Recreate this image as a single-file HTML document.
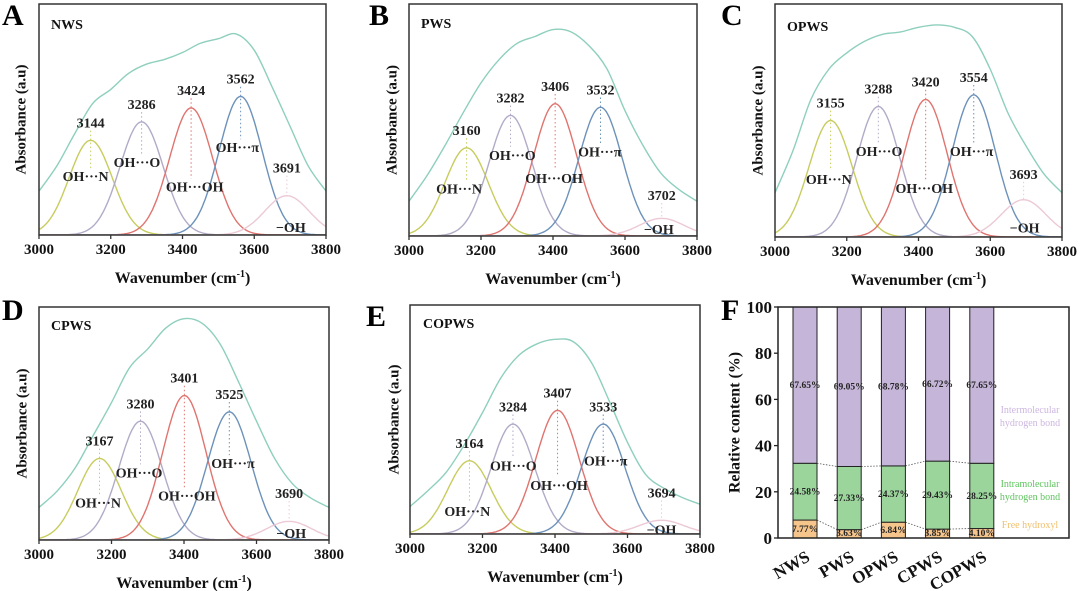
<!DOCTYPE html>
<html><head><meta charset="utf-8"><style>
html,body{margin:0;padding:0;background:#fff;}
svg{display:block;font-family:"Liberation Serif",serif;font-weight:bold;}
</style></head><body>
<svg id="fig" width="1080" height="591" viewBox="0 0 1080 591"></svg>
<script>
// ---------- spectra data ----------
const envX = [3000,3050,3100,3150,3200,3250,3300,3350,3400,3450,3500,3550,3600,3650,3700,3750,3800];
const envA = [0.19,0.30,0.44,0.57,0.63,0.70,0.74,0.76,0.79,0.83,0.85,0.87,0.80,0.64,0.47,0.30,0.19];
const envB = [0.15,0.26,0.39,0.53,0.66,0.76,0.83,0.86,0.89,0.88,0.82,0.72,0.54,0.39,0.27,0.20,0.15];
const envC = [0.19,0.37,0.59,0.72,0.79,0.84,0.87,0.88,0.90,0.91,0.90,0.86,0.72,0.53,0.39,0.27,0.19];
const envD = [0.14,0.21,0.31,0.45,0.59,0.74,0.82,0.91,0.95,0.93,0.84,0.68,0.51,0.35,0.24,0.18,0.14];
const envE = [0.12,0.19,0.27,0.39,0.53,0.68,0.78,0.83,0.85,0.84,0.75,0.58,0.40,0.26,0.20,0.16,0.13];
const centersA = [3144,3286,3424,3562,3691];
const heightsA = [0.41,0.49,0.55,0.60,0.17];
const centersB = [3160,3282,3406,3532,3702];
const heightsB = [0.38,0.52,0.57,0.555,0.076];
const centersC = [3155,3288,3420,3554,3693];
const heightsC = [0.50,0.56,0.59,0.61,0.16];
const centersD = [3167,3280,3401,3525,3690];
const heightsD = [0.35,0.51,0.62,0.55,0.08];
const centersE = [3164,3284,3407,3533,3694];
const heightsE = [0.32,0.48,0.54,0.48,0.06];
const bondLabels = ["OH···N","OH···O","OH···OH","OH···π","−OH"];
const xTicks = [3000,3200,3400,3600,3800];
// ---------- bar chart data ----------
const samples = ["NWS","PWS","OPWS","CPWS","COPWS"];
const freeOH = [7.77,3.63,6.84,3.85,4.10];
const intraHB = [24.58,27.33,24.37,29.43,28.25];
const interHB = [67.65,69.05,68.78,66.72,67.65];
const yTicksF = [0,20,40,60,80,100];

const NS="http://www.w3.org/2000/svg";
const svg=document.getElementById('fig');
function mk(tag,attrs,parent,text){const e=document.createElementNS(NS,tag);for(const k in attrs)e.setAttribute(k,attrs[k]);if(text!==undefined)e.textContent=text;(parent||svg).appendChild(e);return e;}

const peakColors=["#c8cc5e","#b2abc8","#e0746f","#6d92ba","#ecc9d6"];
const sigma=[60,60,60,60,62];

const panels=[
 {key:"a",letter:"A",name:"NWS",x0:39,x1:326,yt:4,yb:235,lx:2,ly:25,nx:51,ny:29,ytx:22,env:envA,c:centersA,h:heightsA,
  lab:[[3130,0.255],[3273,0.315],[3434,0.21],[3553,0.38],[3702,0.035]],pinkNum:0.27},
 {key:"b",letter:"B",name:"PWS",x0:409,x1:697,yt:4,yb:236,lx:369,ly:25,nx:421,ny:28,ytx:393,env:envB,c:centersB,h:heightsB,
  lab:[[3139,0.205],[3287,0.35],[3403,0.25],[3530,0.365],[3694,0.03]],pinkNum:0.155},
 {key:"c",letter:"C",name:"OPWS",x0:775,x1:1062,yt:4,yb:237,lx:721,ly:25,nx:787,ny:31,ytx:759,env:envC,c:centersC,h:heightsC,
  lab:[[3150,0.25],[3290,0.37],[3416,0.21],[3548,0.37],[3696,0.04]],pinkNum:0.25},
 {key:"d",letter:"D",name:"CPWS",x0:39,x1:329,yt:307,yb:540,lx:2,ly:320,nx:51,ny:330,ytx:23,env:envD,c:centersD,h:heightsD,
  lab:[[3163,0.16],[3276,0.29],[3408,0.19],[3535,0.33],[3696,0.03]],pinkNum:0.18},
 {key:"e",letter:"E",name:"COPWS",x0:410,x1:700,yt:305,yb:534,lx:366,ly:326,nx:423,ny:328,ytx:395,env:envE,c:centersE,h:heightsE,
  lab:[[3158,0.10],[3285,0.30],[3411,0.215],[3540,0.32],[3694,0.02]],pinkNum:0.16}
];

function catmull(pts){let d=`M${pts[0][0]},${pts[0][1]}`;for(let i=0;i<pts.length-1;i++){const p0=pts[i-1]||pts[i],p1=pts[i],p2=pts[i+1],p3=pts[i+2]||p2;
 d+=` C${p1[0]+(p2[0]-p0[0])/6},${p1[1]+(p2[1]-p0[1])/6} ${p2[0]-(p3[0]-p1[0])/6},${p2[1]-(p3[1]-p1[1])/6} ${p2[0]},${p2[1]}`;}return d;}

panels.forEach(P=>{
 const g=mk('g',{});
 
 
 const X=v=>P.x0+(v-3000)/800*(P.x1-P.x0);
 const Y=f=>P.yb-f*(P.yb-P.yt);
 const clip=mk('clipPath',{id:'clip'+P.key},g);mk('rect',{x:P.x0,y:P.yt,width:P.x1-P.x0,height:P.yb-P.yt},clip);
 const plot=mk('g',{'clip-path':`url(#clip${P.key})`},g);
 // envelope
 const ep=envX.map((x,i)=>[X(x),Y(P.env[i])]);
 const env=mk('path',{d:catmull(ep),fill:'none',stroke:'#8ecfbd','stroke-width':1.4},plot);
 
 
 // gaussian peaks
 P.c.forEach((c,i)=>{
  let d='';for(let w=3000;w<=3800;w+=4){const f=P.h[i]*Math.exp(-Math.pow(w-c,2)/(2*sigma[i]*sigma[i]));d+=(w===3000?'M':'L')+X(w).toFixed(1)+','+Y(f).toFixed(1);}
  const pk=mk('path',{d:d,fill:'none',stroke:peakColors[i],'stroke-width':1.4},plot);
  
  
 });
 // labels
 P.c.forEach((c,i)=>{
  const numF = i===4 ? P.pinkNum : P.h[i]+0.055;
  const topY=Y(numF)+3, botY = i===4?Y(P.h[i]):Y(P.lab[i][1])-8;
  const ln=mk('line',{x1:X(c),x2:X(c),y1:Math.min(topY,Y(P.h[i])),y2:Math.max(botY,Y(P.h[i])),stroke:peakColors[i],'stroke-width':1,'stroke-dasharray':'1.5,2.5'},g);
  
  
  const t=mk('text',{x:X(c),y:Y(numF),'text-anchor':'middle','font-size':14,fill:'#222'},g,String(c));
  
  
  const b=mk('text',{x:X(P.lab[i][0]),y:Y(P.lab[i][1])+5,'text-anchor':'middle','font-size':14,fill:'#222'},g,bondLabels[i]);
  
  
 });
 // frame
 const fr=mk('rect',{x:P.x0,y:P.yt,width:P.x1-P.x0,height:P.yb-P.yt,fill:'none',stroke:'#333','stroke-width':1.5},g);
 
 
 xTicks.forEach(v=>{
  mk('line',{x1:X(v),x2:X(v),y1:P.yb,y2:P.yb+4,stroke:'#333','stroke-width':1.3},g);
  const t=mk('text',{x:X(v),y:P.yb+19,'text-anchor':'middle','font-size':15,fill:'#111'},g,String(v));
  
  
 });
 const xt=mk('text',{x:(P.x0+P.x1)/2,y:P.yb+48,'text-anchor':'middle','font-size':16,fill:'#111'},g);
 
 
 mk('tspan',{},xt,'Wavenumber (cm');mk('tspan',{'font-size':10,dy:-6},xt,'-1');mk('tspan',{dy:6},xt,')');
 const yc=(P.yt+P.yb)/2;
 const yt=mk('text',{x:P.ytx,y:yc,transform:`rotate(-90 ${P.ytx} ${yc})`,'text-anchor':'middle','dominant-baseline':'middle','font-size':15,fill:'#111'},g,'Absorbance (a.u)');
 
 
 const L=mk('text',{x:P.lx,y:P.ly,'font-size':30,fill:'#000'},g,P.letter);
 
 
 const N=mk('text',{x:P.nx,y:P.ny,'font-size':14,fill:'#111'},g,P.name);
 
 
});

// ---------- panel F ----------
(function(){
 const x0=778,x1=1069,yt=307,yb=538;
 const g=mk('g',{});
 
 
 const Y=v=>yb-v/100*(yb-yt);
 const BX=i=>805+i*44.2;
 const bw=24;
 const cols={free:'#f6c58c',intra:'#9bd59c',inter:'#c5b6d9'};
 // dotted connectors
 for(let i=0;i<samples.length-1;i++){
  const a=freeOH[i],b=freeOH[i+1];
  mk('line',{x1:BX(i)+bw/2,y1:Y(a),x2:BX(i+1)-bw/2,y2:Y(b),stroke:'#555','stroke-width':0.8,'stroke-dasharray':'1.5,1.5'},g);
  const c=freeOH[i]+intraHB[i],d=freeOH[i+1]+intraHB[i+1];
  mk('line',{x1:BX(i)+bw/2,y1:Y(c),x2:BX(i+1)-bw/2,y2:Y(d),stroke:'#555','stroke-width':0.8,'stroke-dasharray':'1.5,1.5'},g);
 }
 samples.forEach((s,i)=>{
  const segs=[['free',0,freeOH[i]],['intra',freeOH[i],freeOH[i]+intraHB[i]],['inter',freeOH[i]+intraHB[i],100]];
  const vals=[freeOH[i],intraHB[i],interHB[i]];
  segs.forEach((sg,j)=>{
   const r=mk('rect',{x:BX(i)-bw/2,y:Y(sg[2]),width:bw,height:Y(sg[1])-Y(sg[2]),fill:cols[sg[0]],stroke:'#222','stroke-width':1},g);
   
   
   const mid=j===0?Math.max((sg[1]+sg[2])/2,2.2):(sg[1]+sg[2])/2;
   const t=mk('text',{x:BX(i),y:Y(mid)+3,'text-anchor':'middle','font-size':9.5,fill:'#222'},g,vals[j].toFixed(2)+'%');
   
   
  });
  const lx=BX(i)+6,ly=yb+22;
  const t=mk('text',{x:lx,y:ly,transform:`rotate(-30 ${lx} ${ly})`,'text-anchor':'end','font-size':17,fill:'#111'},g,s);
  
  
 });
 const fr=mk('rect',{x:x0,y:yt,width:x1-x0,height:yb-yt,fill:'none',stroke:'#222','stroke-width':1.5},g);
 
 
 yTicksF.forEach(v=>{
  mk('line',{x1:x0-4,x2:x0,y1:Y(v),y2:Y(v),stroke:'#222','stroke-width':1.3},g);
  const t=mk('text',{x:x0-6,y:Y(v)+6,'text-anchor':'end','font-size':17,fill:'#111'},g,String(v));
  
  
 });
 const yc=(yt+yb)/2;
 const ytl=mk('text',{x:736,y:yc,transform:`rotate(-90 736 ${yc})`,'text-anchor':'middle','dominant-baseline':'middle','font-size':16,fill:'#111'},g,'Relative content (%)');
 
 
 const F=mk('text',{x:721,y:320,'font-size':30,fill:'#000'},g,'F');
 
 
 const leg=[['Intermolecular',413,'#cdb6e0'],['hydrogen bond',426,'#cdb6e0'],['Intramolecular',487,'#5fc45f'],['hydrogen bond',500,'#5fc45f'],['Free hydroxyl',528,'#f0c070']];
 leg.forEach(l=>{
  const t=mk('text',{x:1030,y:l[1],'text-anchor':'middle','font-size':10,'font-weight':'normal',fill:l[2]},g,l[0]);
  
  
 });
})();
</script>
</body></html>
